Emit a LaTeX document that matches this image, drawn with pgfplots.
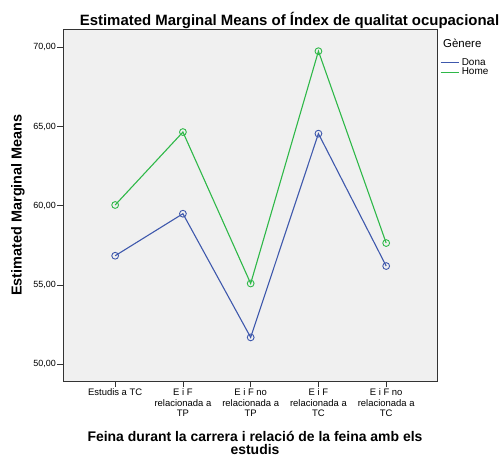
\documentclass[border=0pt]{standalone}
\usepackage{pgfplots}
\pgfplotsset{compat=1.18}
\usepackage{fontspec}
\setmainfont{Liberation Sans}
\definecolor{bgc}{HTML}{F0F0F0}
\definecolor{dona}{HTML}{3E58AC}
\definecolor{home}{HTML}{2EB848}
\begin{document}
\begin{tikzpicture}
\path[use as bounding box] (0,0) rectangle (500bp,456bp);
\begin{axis}[
  at={(63bp,75bp)}, anchor=south west,
  width=374bp, height=352bp, scale only axis,
  xmin=-0.77, xmax=4.75, ymin=48.95, ymax=71.15,
  axis background/.style={fill=bgc},
  axis line style={draw=black!80, line width=0.9pt},
  tick align=outside, major tick length=6bp,
  tick style={black!80, line width=0.8pt},
  xtick pos=bottom, ytick pos=left,
  xtick={0,1,2,3,4},
  xticklabels={Estudis a TC, {E i F\\relacionada a\\TP}, {E i F no\\relacionada a\\TP}, {E i F\\relacionada a\\TC}, {E i F no\\relacionada a\\TC}},
  xticklabel style={align=center, font=\fontsize{9.5}{10.6}\selectfont, inner sep=1pt, yshift=-0.5bp},
  ytick={50,55,60,65,70},
  yticklabels={{50,00},{55,00},{60,00},{65,00},{70,00}},
  yticklabel style={font=\fontsize{9}{10}\selectfont, inner sep=1pt},
  legend style={at={(1,1)}, anchor=north west, xshift=3bp, yshift=-29bp, draw=none, fill=none,
    font=\fontsize{10}{10}\selectfont, row sep=0.5pt, inner sep=0pt,
    nodes={text height=7bp, text depth=2bp, inner sep=0pt}},
  legend cell align=left,
  legend image code/.code={\draw[#1, mark=none] (0bp,0bp) -- (18bp,0bp); \path (20.5bp,0bp);},
]
\addplot[dona, line width=1.1pt, mark=o, mark size=3.4bp, mark options={line width=0.9pt}]
  coordinates {(0,56.85) (1,59.5) (2,51.7) (3,64.55) (4,56.2)};
\addlegendentry{Dona}
\addplot[home, line width=1.1pt, mark=o, mark size=3.4bp, mark options={line width=0.9pt}]
  coordinates {(0,60.05) (1,64.65) (2,55.1) (3,69.75) (4,57.65)};
\addlegendentry{Home}
\end{axis}
\node[font=\bfseries\fontsize{15}{16}\selectfont, anchor=base] at (289.5bp,430bp) {Estimated Marginal Means of Índex de qualitat ocupacional};
\node[font=\bfseries\fontsize{14}{12.5}\selectfont, align=center, anchor=center] at (255bp,13bp) {Feina durant la carrera i relació de la feina amb els\\estudis};
\node[font=\bfseries\fontsize{14.5}{15}\selectfont, rotate=90, anchor=center] at (18bp,251bp) {Estimated Marginal Means};
\node[font=\fontsize{11.5}{12}\selectfont, anchor=base west, inner sep=0pt] at (443bp,408bp) {Gènere};
\end{tikzpicture}
\end{document}
